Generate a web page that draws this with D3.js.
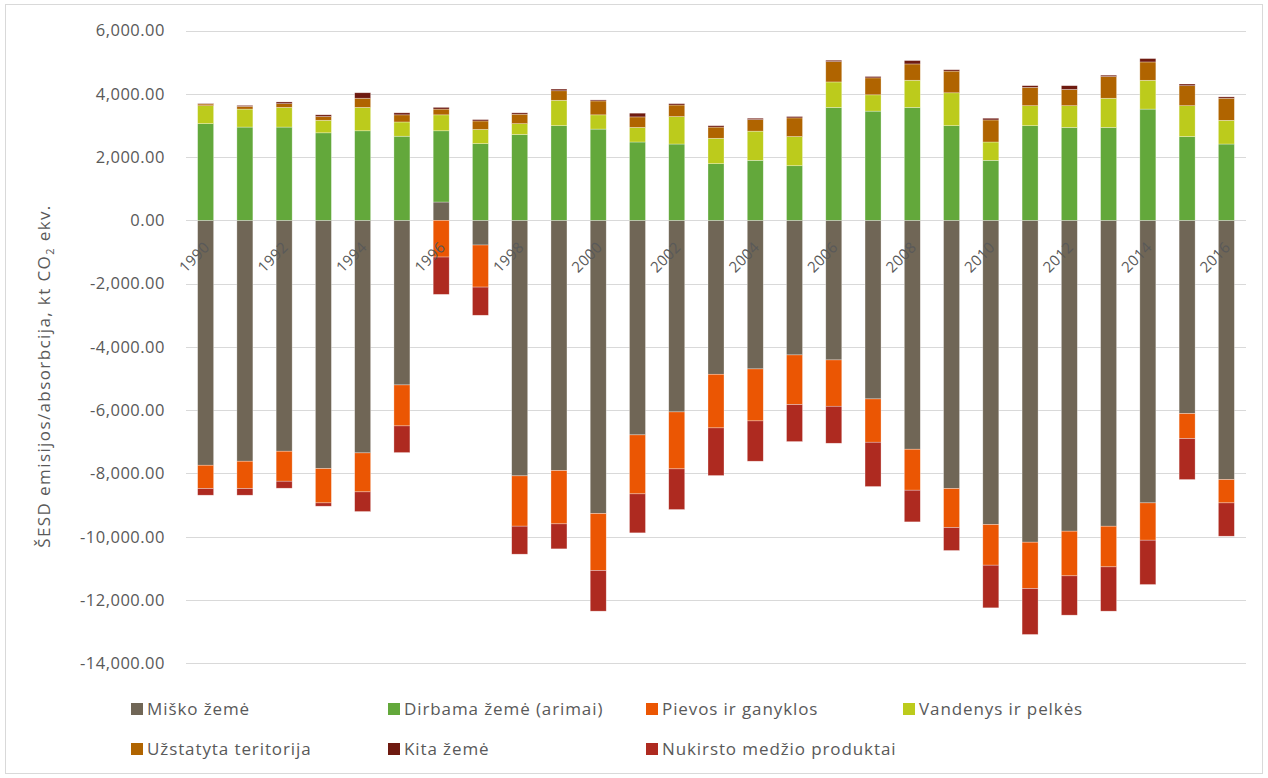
<!DOCTYPE html>
<html>
<head>
<meta charset="utf-8">
<script src="https://cdnjs.cloudflare.com/ajax/libs/d3/7.8.5/d3.min.js"></script>
<style>
  html, body { margin: 0; padding: 0; background: #fff; }
  svg { display: block; font-family: "Open Sans", "Noto Sans", sans-serif; }
</style>
</head>
<body>
<svg id="chart" width="1268" height="778"></svg>
<script>
// ---- data ----
const years = [1990,1991,1992,1993,1994,1995,1996,1997,1998,1999,2000,2001,2002,2003,2004,2005,2006,2007,2008,2009,2010,2011,2012,2013,2014,2015,2016];
const seriesNames = ["Miško žemė","Dirbama žemė (arimai)","Pievos ir ganyklos","Vandenys ir pelkės","Užstatyta teritorija","Kita žemė","Nukirsto medžio produktai"];
const miskoZeme = [-7740,-7613,-7297,-7845,-7350,-5202,579,-780,-8076,-7908,-9266,-6781,-6055,-4865,-4696,-4254,-4412,-5644,-7234,-8477,-9614,-10172,-9824,-9667,-8930,-6107,-8192];
const dirbamaZeme = [3055,2948,2948,2766,2830,2659,2251,2423,2712,2991,2884,2476,2412,1790,1897,1726,3570,3452,3570,2991,1897,2991,2937,2937,3516,2648,2412];
const pievos = [-737,-864,-948,-1085,-1232,-1295,-1160,-1330,-1590,-1685,-1801,-1864,-1800,-1695,-1643,-1569,-1464,-1369,-1295,-1232,-1285,-1464,-1412,-1285,-1179,-790,-738];
const vandenys = [568,568,622,397,740,450,504,450,343,804,450,461,868,804,922,922,804,515,858,1040,579,632,686,922,911,975,750];
const uzstatyta = [54,86,118,118,290,225,182,268,300,300,440,332,365,354,365,590,643,536,515,686,697,579,515,686,579,632,697];
const kitaZeme = [15,30,54,54,172,64,54,43,43,54,32,118,43,43,43,43,43,43,107,43,54,54,118,43,107,54,43];
const nukirsto = [-210,-210,-221,-105,-621,-843,-1180,-890,-885,-790,-1285,-1232,-1285,-1506,-1274,-1169,-1169,-1400,-1001,-726,-1348,-1453,-1242,-1400,-1401,-1295,-1053];
const yTicks = [6000,4000,2000,0,-2000,-4000,-6000,-8000,-10000,-12000,-14000];
const xLabelYears = [1990,1992,1994,1996,1998,2000,2002,2004,2006,2008,2010,2012,2014,2016];

const colors = ["#706656","#63a83b","#eb5603","#bccb1c","#b06400","#6e1a10","#ae2a20"];

// ---- build table ----
const seriesArrays = [miskoZeme, dirbamaZeme, pievos, vandenys, uzstatyta, kitaZeme, nukirsto];
const table = years.map((yr, i) => {
  const row = { year: yr };
  seriesNames.forEach((n, k) => row[n] = seriesArrays[k][i]);
  return row;
});

const stack = d3.stack().keys(seriesNames).offset(d3.stackOffsetDiverging);
const stacked = stack(table);

// ---- layout ----
const svg = d3.select("#chart");
const plot = { left: 186, right: 1246, top: 30.5, bottom: 663.3 };

svg.append("rect").attr("x", 5.5).attr("y", 4.5).attr("width", 1257).attr("height", 769)
  .attr("fill", "#fff").attr("stroke", "#d9d9d9").attr("stroke-width", 1);

const y = d3.scaleLinear().domain([-14000, 6000]).range([plot.bottom, plot.top]);
const x = d3.scaleBand().domain(years).range([plot.left, plot.right])
  .paddingInner(0.5925).paddingOuter(0.29625);

const fmt = v => d3.format(",.2f")(v).replace("\u2212", "-");

// gridlines
svg.append("g").selectAll("line").data(yTicks).join("line")
  .attr("x1", plot.left).attr("x2", plot.right)
  .attr("y1", d => Math.round(y(d)) + 0.5).attr("y2", d => Math.round(y(d)) + 0.5)
  .attr("stroke", "#d9d9d9").attr("stroke-width", 1);

// y axis via d3.axisLeft (no domain/ticks lines)
const yAxis = svg.append("g").attr("transform", `translate(${plot.left},0)`)
  .call(d3.axisLeft(y).tickValues(yTicks).tickFormat(fmt).tickSize(0).tickPadding(21));
yAxis.select(".domain").remove();
yAxis.selectAll("text").attr("font-size", 16.5).attr("fill", "#595959")
  .attr("letter-spacing", 0.5)
  .attr("font-family", "'Open Sans', sans-serif");

// bars
svg.append("g").selectAll("g").data(stacked).join("g")
  .attr("fill", (d, i) => colors[i])
  .selectAll("rect").data(d => d).join("rect")
  .attr("x", d => x(d.data.year))
  .attr("width", x.bandwidth())
  .attr("y", d => y(Math.max(d[0], d[1])))
  .attr("height", d => Math.abs(y(d[0]) - y(d[1])))
  .attr("stroke", "#ffffff").attr("stroke-opacity", 0.5).attr("stroke-width", 0.6);

// x labels at zero line, rotated
svg.append("g").selectAll("text").data(xLabelYears).join("text")
  .attr("transform", d => `translate(${x(d) + x.bandwidth() / 2 + 5},${y(0) + 28}) rotate(-45)`)
  .attr("text-anchor", "end")
  .attr("font-size", 15).attr("letter-spacing", 0.3).attr("fill", "#595959")
  .text(d => d);

// y axis title
const title = svg.append("text")
  .attr("transform", `translate(50,376) rotate(-90)`)
  .attr("text-anchor", "middle").attr("font-size", 17).attr("letter-spacing", 1.4).attr("fill", "#595959");
title.append("tspan").text("ŠESD emisijos/absorbcija, kt CO");
title.append("tspan").attr("font-size", 11).attr("dy", 4).text("2");
title.append("tspan").attr("dy", -4).text(" ekv.");

// legend
const legendPos = [[131,709],[388,709],[646,709],[903,709],[131,749],[388,749],[646,749]];
const lg = svg.append("g").selectAll("g").data(seriesNames).join("g")
  .attr("transform", (d, i) => `translate(${legendPos[i][0]},${legendPos[i][1]})`);
lg.append("rect").attr("x", 0).attr("y", -6).attr("width", 12).attr("height", 12)
  .attr("fill", (d, i) => colors[i]);
lg.append("text").attr("x", 16).attr("y", 0).attr("dy", "0.35em")
  .attr("font-size", 17).attr("letter-spacing", 0.9).attr("fill", "#595959").text(d => d);
</script>
</body>
</html>
